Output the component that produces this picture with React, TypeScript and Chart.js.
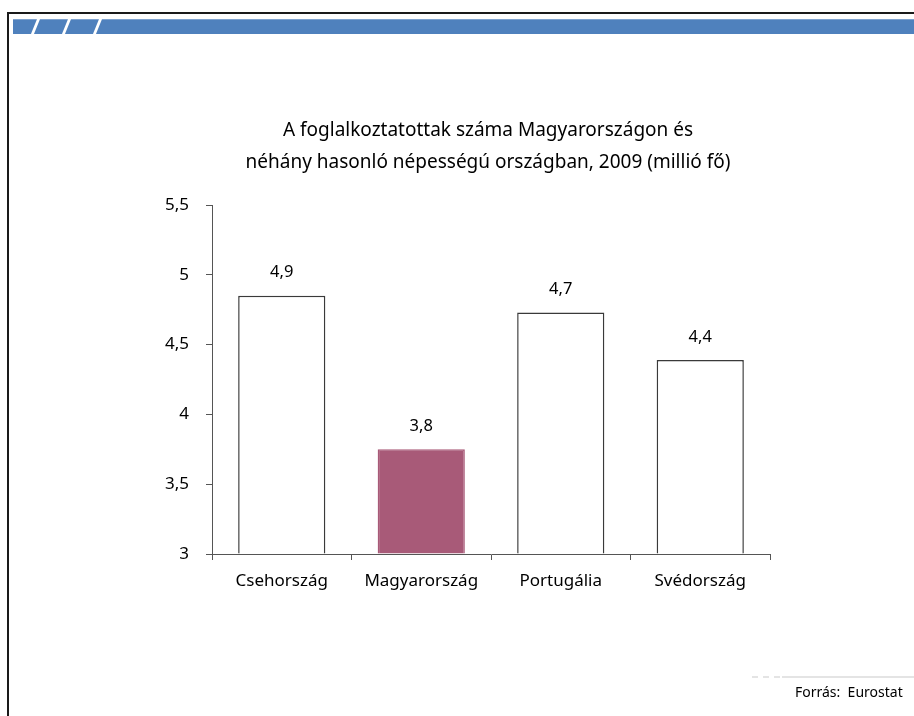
import React, { useEffect, useRef } from "react";
import { Chart, registerables } from "chart.js";

Chart.register(...registerables);

const categories = ["Csehország", "Magyarország", "Portugália", "Svédország"];
const employed = [4.85, 3.75, 4.73, 4.39];
const barFills = ["#FFFFFF", "#A85A78", "#FFFFFF", "#FFFFFF"];
const barBorders = ["#3A3A3A", "#A85A78", "#3A3A3A", "#3A3A3A"];
const titleLines = [
  "A foglalkoztatottak száma Magyarországon és",
  "néhány hasonló népességú országban, 2009 (millió fő)",
];
const yMin = 3;
const yMax = 5.5;
const yStep = 0.5;
const sourceText = "Forrás:  Eurostat";

const FONT = "'Noto Sans', 'Open Sans', sans-serif";

function fmt(v: number): string {
  const r = Math.round(v * 10) / 10;
  return r.toFixed(1).replace(".", ",");
}

function tickFmt(v: number): string {
  return String(Math.round(v * 10) / 10).replace(".", ",");
}

const valueLabelPlugin = {
  id: "valueLabels",
  afterDatasetsDraw(chart: any) {
    const ctx = chart.ctx;
    const meta = chart.getDatasetMeta(0);
    ctx.save();
    ctx.font = `16.5px ${FONT}`;
    ctx.fillStyle = "#000";
    ctx.textAlign = "center";
    ctx.textBaseline = "middle";
    meta.data.forEach((bar: any, i: number) => {
      ctx.fillText(fmt(employed[i]), bar.x, bar.y - 23);
    });
    ctx.restore();
  },
};

const titlePlugin = {
  id: "customTitle",
  afterDraw(chart: any) {
    const ctx = chart.ctx;
    const a = chart.chartArea;
    const cx = (a.left + a.right) / 2 - 3;
    ctx.save();
    ctx.font = `19px ${FONT}`;
    ctx.fillStyle = "#000";
    ctx.textAlign = "center";
    ctx.textBaseline = "middle";
    titleLines.forEach((t, i) => ctx.fillText(t, cx, 131 + i * 32));
    ctx.restore();
  },
};

export default function App() {
  const ref = useRef<HTMLCanvasElement | null>(null);
  useEffect(() => {
    if (!ref.current) return;
    const chart = new Chart(ref.current, {
      type: "bar",
      data: {
        labels: categories,
        datasets: [
          {
            data: employed,
            backgroundColor: barFills,
            borderColor: barBorders,
            borderWidth: 1.5,
            categoryPercentage: 1,
            barPercentage: 0.625,
            base: yMin,
          },
        ],
      },
      options: {
        responsive: false,
        animation: false,
        layout: { padding: { left: 152, right: 144, top: 205, bottom: 112 } },
        plugins: {
          legend: { display: false },
          title: { display: false },
          tooltip: { enabled: false },
        },
        scales: {
          x: {
            afterFit: (s: any) => {
              s.height = 50;
            },
            grid: {
              drawOnChartArea: false,
              drawTicks: true,
              tickLength: 6,
              color: "#555",
              offset: true,
            },
            border: { display: true, color: "#555", width: 1 },
            ticks: {
              color: "#000",
              font: { family: FONT, size: 17 },
              padding: 11,
              maxRotation: 0,
            },
          },
          y: {
            min: yMin,
            max: yMax,
            afterFit: (s: any) => {
              s.width = 60;
            },
            grid: {
              drawOnChartArea: false,
              drawTicks: true,
              tickLength: 6,
              color: "#555",
            },
            border: { display: true, color: "#555", width: 1 },
            ticks: {
              stepSize: yStep,
              color: "#000",
              font: { family: FONT, size: 17 },
              padding: 17,
              callback: (v: any) => tickFmt(Number(v)),
            },
          },
        },
      },
      plugins: [valueLabelPlugin, titlePlugin],
    });
    return () => chart.destroy();
  }, []);

  const stripe = (left: number) => (
    <div
      key={left}
      style={{
        position: "absolute",
        left,
        top: 19,
        width: 3,
        height: 15,
        background: "#fff",
        transform: "skewX(-22deg)",
      }}
    />
  );

  return (
    <div
      style={{
        position: "fixed",
        left: 0,
        top: 0,
        width: 914,
        height: 716,
        background: "#fff",
        overflow: "hidden",
      }}
    >
      <div
        style={{
          position: "absolute",
          left: 7,
          top: 12,
          width: 930,
          height: 730,
          borderLeft: "2px solid #1a1a1a",
          borderTop: "2px solid #1a1a1a",
        }}
      />
      <div
        style={{
          position: "absolute",
          left: 13,
          top: 19,
          width: 910,
          height: 15,
          background: "#4F81BD",
          borderTop: "1px solid #7EA2CF",
          boxSizing: "border-box",
        }}
      />
      {[34, 65, 96].map(stripe)}
      <canvas
        ref={ref}
        width={914}
        height={716}
        style={{ position: "absolute", left: 0, top: 0, width: 914, height: 716 }}
      />
      <div
        style={{
          position: "absolute",
          left: 752,
          top: 676,
          width: 28,
          height: 0,
          borderTop: "2px dashed #e4e4e4",
        }}
      />
      <div
        style={{
          position: "absolute",
          left: 782,
          top: 676,
          width: 140,
          height: 0,
          borderTop: "2px solid #e4e4e4",
        }}
      />
      <div
        style={{
          position: "absolute",
          left: 795,
          top: 683,
          fontFamily: FONT,
          fontSize: 14,
          color: "#000",
          whiteSpace: "pre",
          lineHeight: "18px",
        }}
      >
        {sourceText}
      </div>
    </div>
  );
}
